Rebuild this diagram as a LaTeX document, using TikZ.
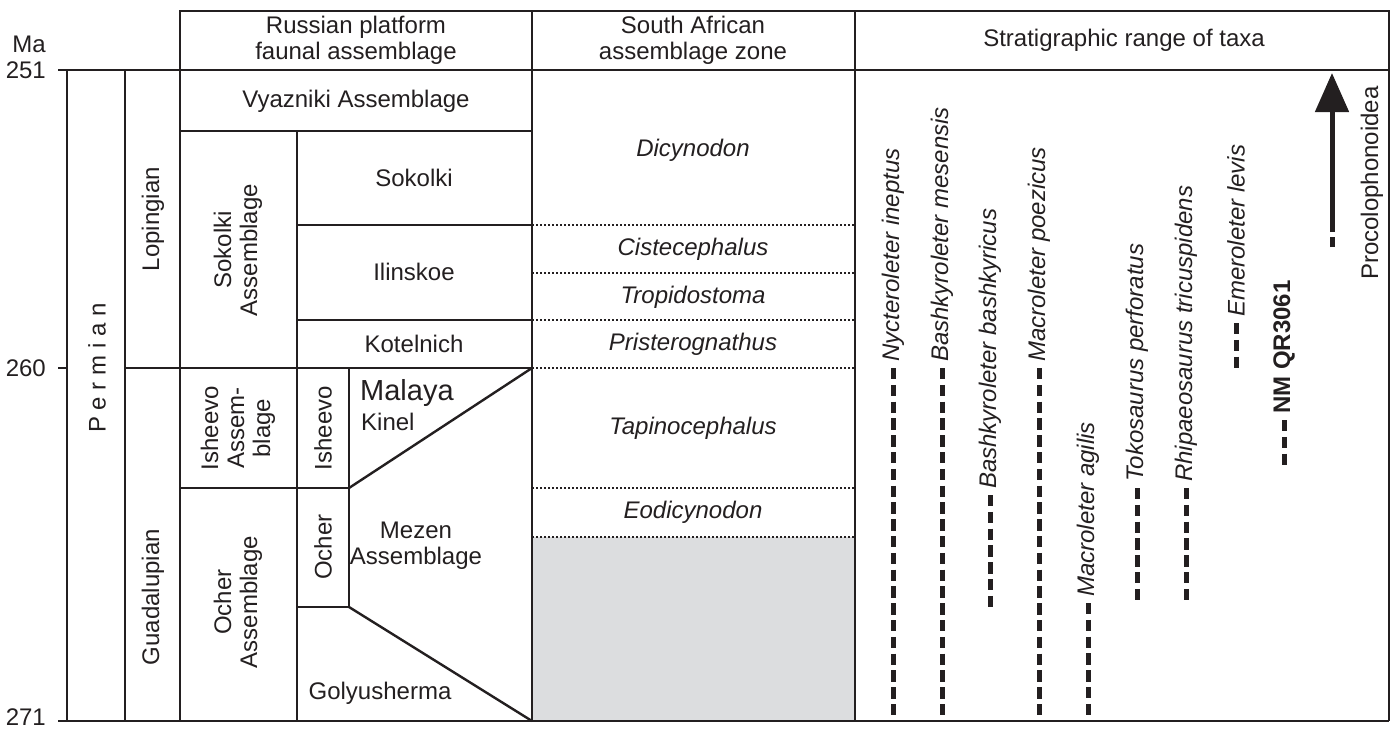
\documentclass[tikz,border=0pt]{standalone}
\usepackage{fontspec}
\setmainfont{Liberation Sans}
\usetikzlibrary{arrows.meta}
\definecolor{ink}{RGB}{35,31,32}
\definecolor{gapgray}{RGB}{220,221,223}

\begin{document}
\begin{tikzpicture}[x=1pt, y=-1pt,
      every node/.style = {inner sep=0pt, align=center, text=ink,
        font=\fontsize{24}{26}\selectfont},
      gridline/.style = {draw=ink, line width=2.4pt},
      zoneline/.style = {draw=ink, line width=1.6pt, dash pattern=on 1.6pt off 2.4pt},
      rangeline/.style = {draw=ink, line width=5pt, dash pattern=on 11.3pt off 5.5pt},
      upright/.style = {rotate=90},
      taxon/.style = {rotate=90, anchor=west, font=\fontsize{24}{26}\selectfont\itshape},
      zonename/.style = {font=\fontsize{24}{26}\selectfont\itshape}]
  \useasboundingbox (0,0) rectangle (1400,729);
  \fill[gapgray] (532,537) rectangle (855,721);
  % time axis
  \node[anchor=east] (ma) at (46,44) {Ma};
  \node[anchor=east] (ma251) at (46,70) {251};
  \node[anchor=east] (ma260) at (46,368) {260};
  \node[anchor=east] (ma271) at (46,717) {271};
  \draw[gridline] (58,70) -- (1389,70);
  \draw[gridline] (58,721) -- (1389,721);
  \draw[gridline] (58,368) -- (67,368);
  \draw[gridline] (125,368) -- (532,368);
  % columns
  \draw[gridline] (180,70) |- (1389,11) -- (1389,721);
  \foreach \x in {67,125} \draw[gridline] (\x,70) -- (\x,721);
  \foreach \x in {180,532,855} \draw[gridline] (\x,11) -- (\x,721);
  \draw[gridline] (297,131) -- (297,721);
  \draw[gridline] (349,368) -- (349,607);
  \draw[gridline] (180,131) -- (532,131);
  \draw[gridline] (297,225) -- (532,225);
  \draw[gridline] (297,320) -- (532,320);
  \draw[gridline] (180,488) -- (349,488);
  \draw[gridline] (297,607) -- (349,607);
  \draw[gridline] (349,488) -- (532,368);
  \draw[gridline] (349,607) -- (532,721);
  \foreach \y in {225,273,320,368,488,537} \draw[zoneline] (532,\y) -- (855,\y);
  % headers
  \node (hrus) at (356,40) {Russian platform\\faunal assemblage};
  \node (hsaf) at (693,40) {South African\\assemblage zone};
  \node (htax) at (1124,40) {Stratigraphic range of taxa};
  % epochs
  \node[upright] (perm) at (97,368) {P e r m i a n};
  \node[upright] (lop) at (153,219) {Lopingian};
  \node[upright] (gua) at (153,597) {Guadalupian};
  % Russian platform
  \node (vyaz) at (356,101) {Vyazniki Assemblage};
  \node[upright] (sokA) at (238,250) {Sokolki\\Assemblage};
  \node[upright] (ishA) at (238,428) {Isheevo\\Assem-\\blage};
  \node[upright] (ochA) at (238,602) {Ocher\\Assemblage};
  \node (sok) at (414,178) {Sokolki};
  \node (ilin) at (414,272) {Ilinskoe};
  \node (kot) at (414,344) {Kotelnich};
  \node[upright] (ish) at (323,428) {Isheevo};
  \node[upright] (och) at (323,547) {Ocher};
  \node[anchor=west, font=\fontsize{29}{31}\selectfont] (mal) at (360,393) {Malaya};
  \node[anchor=west] (kin) at (361,422) {Kinel};
  \node (mez) at (416,546) {Mezen\\Assemblage};
  \node (gol) at (380,693) {Golyusherma};
  % South African zones
  \node[zonename] (dic) at (693,150) {Dicynodon};
  \node[zonename] (cis) at (693,249) {Cistecephalus};
  \node[zonename] (tro) at (693,297) {Tropidostoma};
  \node[zonename] (pri) at (693,344) {Pristerognathus};
  \node[zonename] (tap) at (693,428) {Tapinocephalus};
  \node[zonename] (eod) at (693,512) {Eodicynodon};
  % taxa ranges
  \foreach \x/\top/\bot/\name in {893/368/715/Nycteroleter ineptus,
      942/368/715/Bashkyroleter mesensis,
      990/495/607/Bashkyroleter bashkyricus,
      1039/368/715/Macroleter poezicus,
      1088/603/715/Macroleter agilis,
      1137/488/600/Tokosaurus perforatus,
      1186/488/600/Rhipaeosaurus tricuspidens,
      1236/323/368/Emeroleter levis} {
    \draw[rangeline] (\x,\top) -- (\x,\bot);
    \node[taxon] (tx\x) at (\x,\top-6) {\name};
  }
  \draw[rangeline] (1284,420) -- (1284,465);
  \node[taxon, font=\fontsize{24}{26}\selectfont\bfseries] (nmqr) at (1284,414) {NM QR3061};
  \draw[ink, line width=5pt] (1332,247) -- (1332,237);
  \draw[ink, line width=5pt, -{Triangle[length=39pt,width=33pt]}] (1332,232) -- (1332,73);
  \node[upright] (proco) at (1372,183) {Procolophonoidea};
\end{tikzpicture}
\end{document}
